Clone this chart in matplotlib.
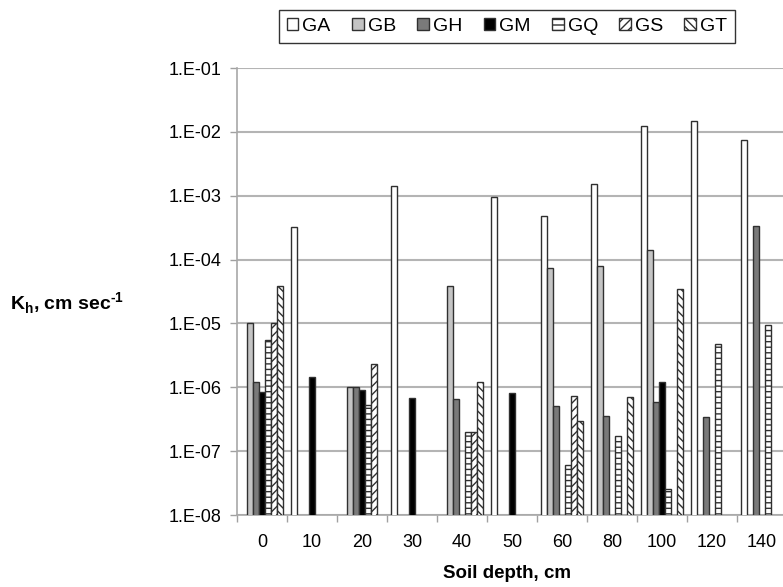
import numpy as np
import matplotlib
matplotlib.use('Agg')
import matplotlib.pyplot as plt
from matplotlib.ticker import FuncFormatter, FixedLocator

plt.rcParams['font.family'] = 'Liberation Sans'
plt.rcParams['mathtext.fontset'] = 'custom'
plt.rcParams['mathtext.rm'] = 'Liberation Sans'
plt.rcParams['mathtext.bf'] = 'Liberation Sans:bold'
plt.rcParams['hatch.linewidth'] = 1.0

nan = np.nan

# Data (missing bars = nan)
depths = ['0', '10', '20', '30', '40', '50', '60', '80', '100', '120', '140']
GA = [nan, 3.2e-4, nan, 1.4e-3, nan, 9.5e-4, 4.8e-4, 1.5e-3, 1.25e-2, 1.5e-2, 7.5e-3]
GB = [1.0e-5, nan, 1.0e-6, nan, 3.8e-5, nan, 7.3e-5, 7.8e-5, 1.4e-4, nan, nan]
GH = [1.2e-6, nan, 1.0e-6, nan, 6.5e-7, nan, 5.0e-7, 3.5e-7, 5.9e-7, 3.4e-7, 3.4e-4]
GM = [8.3e-7, 1.43e-6, 9.2e-7, 6.8e-7, nan, 8.2e-7, nan, nan, 1.2e-6, nan, nan]
GQ = [5.6e-6, nan, 5.2e-7, nan, 2.0e-7, nan, 6.0e-8, 1.7e-7, 2.5e-8, 4.7e-6, 9.4e-6]
GS = [1.0e-5, nan, 2.3e-6, nan, 2.0e-7, nan, 7.2e-7, nan, nan, nan, nan]
GT = [3.9e-5, nan, nan, nan, 1.2e-6, nan, 3.0e-7, 7.0e-7, 3.4e-5, nan, nan]

series = [('GA', GA), ('GB', GB), ('GH', GH), ('GM', GM), ('GQ', GQ), ('GS', GS), ('GT', GT)]
faces = ['white', '#c4c4c4', '#7a7a7a', 'black', 'white', 'white', 'white']
hatches = [None, None, None, None, '---', '////', '\\\\\\\\']

fig = plt.figure(figsize=(7.83, 5.87), dpi=100)
ax = fig.add_axes([237 / 783, 1 - 515 / 587, 550 / 783, 447 / 587])

x = np.arange(len(depths))
w = 0.12
for i, (name, vals) in enumerate(series):
    ax.bar(x + (i - 3) * w, vals, width=w, bottom=1e-9, color=faces[i],
           edgecolor='#303030', linewidth=1.0, hatch=hatches[i], label=name, zorder=3)

ax.set_yscale('log')
ax.set_ylim(1e-8, 1e-1)
ax.set_xlim(-0.5, len(depths) - 0.5)
ax.yaxis.set_major_locator(FixedLocator([10.0 ** k for k in range(-8, 0)]))
ax.yaxis.set_minor_locator(FixedLocator([]))
ax.yaxis.set_major_formatter(FuncFormatter(lambda v, p: '1.E%03d' % int(round(np.log10(v)))))

ax.set_xticks(x)
ax.set_xticklabels(depths)
ax.set_xticks(np.arange(len(depths) + 1) - 0.5, minor=True)
ax.tick_params(axis='x', which='major', length=0, pad=14, labelsize=13)
ax.tick_params(axis='x', which='minor', length=5, color='#a0a0a0', width=1)
ax.tick_params(axis='y', which='major', length=5, color='#a0a0a0', width=1, labelsize=13, pad=6)

ax.grid(axis='y', color='#b4b4b4', linewidth=1.5, zorder=0)
ax.set_axisbelow(True)
for s in ['top', 'right']:
    ax.spines[s].set_visible(False)
for s in ['left', 'bottom']:
    ax.spines[s].set_color('#a8a8a8')
    ax.spines[s].set_linewidth(1.2)

fig.text(507 / 783, 1 - 573 / 587, 'Soil depth, cm', ha='center', va='center',
         fontsize=13.5, fontweight='bold')
fig.text(10 / 783, 1 - 303 / 587, 'K$_\\mathbf{h}$, cm sec$^\\mathbf{\u2010 1}$', ha='left', va='center',
         fontsize=14, fontweight='bold')

leg = fig.legend(loc='center', bbox_to_anchor=(507 / 783, 1 - 26.5 / 587), ncol=7,
                 fontsize=14, frameon=True, fancybox=False, handlelength=0.6,
                 handleheight=0.6, handletextpad=0.2, columnspacing=1.1, borderpad=0.4)
leg.get_frame().set_edgecolor('black')
leg.get_frame().set_linewidth(1.0)

fig.savefig('out.png', dpi=100, facecolor='white')
